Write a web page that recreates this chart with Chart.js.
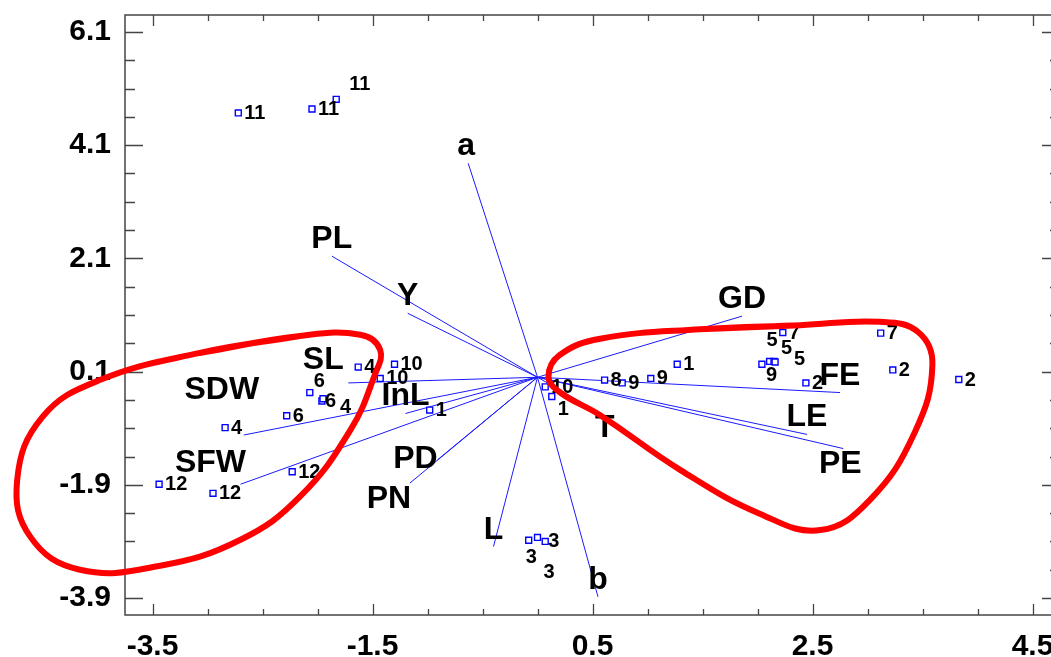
<!DOCTYPE html>
<html>
<head>
<meta charset="utf-8">
<title>Biplot</title>
<style>
  html, body { margin: 0; padding: 0; background: #ffffff; overflow: hidden; }
  #wrap { width: 1066px; height: 657px; }
</style>
<script src="https://cdn.jsdelivr.net/npm/chart.js@4.4.1/dist/chart.umd.min.js"></script>
</head>
<body>
<div id="wrap"><canvas id="biplot" width="1066" height="657"></canvas></div>
<script>
// ---- axis tick labels ----
const xTickLabels = [-3.5, -1.5, 0.5, 2.5, 4.5];
const yTickLabels = [-3.9, -1.9, 0.1, 2.1, 4.1, 6.1];

// ---- trait vectors (end points; every vector starts at the origin) ----
const traitNames = ['a', 'PL', 'Y', 'GD', 'FE', 'LE', 'PE', 'T', 'b', 'L', 'PN', 'PD', 'InL', 'SL', 'SDW', 'SFW'];
const traitX = [-0.63, -1.87, -1.18, 1.86, 2.75, 2.45, 2.78, 0.53, 0.55, -0.40, -1.16, -0.91, -1.20, -1.72, -2.67, -2.70];
const traitY = [3.78, 2.14, 1.13, 1.08, -0.27, -1.01, -1.26, -0.59, -3.88, -2.99, -1.87, -1.46, -0.64, -0.10, -1.02, -1.89];

// ---- observation scores (genotype number per point) ----
const obsLabels = ['11', '11', '11', '4', '12', '12', '12', '6', '6', '6', '4', '4', '10', '10', '1', '10', '1', '1',
                   '8', '9', '9', '9', '5', '5', '5', '7', '7', '2', '2', '2', '3', '3', '3'];
const obsX = [-2.72, -2.05, -1.83, -2.84, -3.44, -2.95, -2.23, -2.28, -2.07, -1.96, -1.95, -1.63, -1.30, -1.43, -0.98, 0.07, 0.13, 1.27,
              0.61, 0.77, 1.03, 2.04, 2.11, 2.15, 2.16, 2.23, 3.12, 2.44, 3.23, 3.83, -0.08, 0.00, 0.07];
const obsY = [4.67, 4.74, 4.91, -0.89, -1.89, -2.05, -1.67, -0.68, -0.27, -0.42, -0.38, 0.18, 0.23, -0.02, -0.58, -0.17, -0.34, 0.23,
              -0.05, -0.10, -0.02, 0.23, 0.28, 0.28, 0.27, 0.79, 0.78, -0.10, 0.13, -0.04, -2.88, -2.83, -2.90];

// ---- group outlines (traced around the two clusters) ----
const leftGroupX = [-2.16, -3.07, -3.98, -4.50, -4.73, -4.61, -4.16, -3.43, -2.70, -2.16, -1.70, -1.48, -1.43, -1.61];
const leftGroupY = [0.73, 0.43, -0.05, -0.70, -1.81, -2.82, -3.40, -3.33, -2.87, -2.11, -0.93, 0.04, 0.48, 0.75];
const rightGroupX = [1.48, 2.39, 3.11, 3.46, 3.59, 3.43, 3.02, 2.57, 2.02, 1.30, 0.57, 0.20, 0.10, 0.20, 0.57];
const rightGroupY = [0.85, 0.92, 0.98, 0.80, 0.22, -0.97, -2.17, -2.70, -2.41, -1.64, -0.67, -0.26, 0.01, 0.39, 0.68];

// ---- styling ----
const FONT = '"Liberation Sans", Arial, Helvetica, sans-serif';
const VEC_BLUE = '#1a1aff';
const PT_BLUE = '#0000ff';
const RED = '#ff0000';
const FRAME = '#454545';

// label placement nudges in pixels: vector labels are centred, baseline [dx, dy] from the tip
const traitLabelNudge = {
  a: [-2, -8], PE: [-3, 24], T: [9, 26], PN: [-21, 25], PD: [-22, 8],
  SL: [-25, -14], SDW: [-22, -36], SFW: [-30, -12]
};
// point labels start 6px right of the square, baseline 6px below its centre; extra [dx, dy]
const obsLabelNudge = {
  2: [7, -15], 8: [-2, -12], 9: [-3, 0], 10: [11, 8], 16: [0, 12],
  21: [-2, 11], 22: [-9, -21], 23: [1, -13], 24: [13, -3],
  30: [-9, 17], 31: [0, 35], 32: [-3, 0]
};

function closedLoop(xs, ys) {
  const pts = xs.map((x, i) => ({ x: x, y: ys[i] }));
  return pts.concat(pts.slice(0, 2));
}

const vectorSets = traitNames.map((name, i) => ({
  type: 'line',
  label: name,
  data: [{ x: 0, y: 0 }, { x: traitX[i], y: traitY[i] }],
  borderColor: VEC_BLUE,
  borderWidth: 1,
  pointRadius: 0,
  tension: 0,
  fill: false,
  order: 2
}));

const pointSet = {
  type: 'line',
  label: 'scores',
  data: obsX.map((x, i) => ({ x: x, y: obsY[i] })),
  showLine: false,
  pointStyle: 'rect',
  pointRadius: 4.2,
  pointBorderWidth: 1.4,
  pointBorderColor: PT_BLUE,
  pointBackgroundColor: '#ffffff',
  order: 1
};
const POINT_INDEX = vectorSets.length;

const outlineSets = [[leftGroupX, leftGroupY], [rightGroupX, rightGroupY]].map(([xs, ys], k) => ({
  type: 'line',
  label: 'group' + k,
  data: closedLoop(xs, ys),
  borderColor: RED,
  borderWidth: 6,
  borderJoinStyle: 'round',
  borderCapStyle: 'round',
  pointRadius: 0,
  tension: 0.42,
  capBezierPoints: false,
  clip: false,
  fill: false,
  order: 0
}));

// frame and inward tick marks (major every 2, minor every 0.5)
const framePlugin = {
  id: 'frame',
  beforeDatasetsDraw(chart) {
    const { ctx, chartArea: a, scales } = chart;
    ctx.save();
    ctx.strokeStyle = FRAME;
    ctx.lineWidth = 1.5;
    ctx.strokeRect(a.left, a.top, a.right - a.left, a.bottom - a.top);
    ctx.lineWidth = 1.3;
    const steps = (majors, sc) => {
      const out = [];
      const base = majors[0];
      for (let k = -20; k <= 40; k++) {
        const v = base + k * 0.5;
        if (v < sc.min - 1e-9 || v > sc.max + 1e-9) continue;
        out.push({ v: v, major: ((k % 4) + 4) % 4 === 0 });
      }
      return out;
    };
    steps(xTickLabels, scales.x).forEach(t => {
      const px = Math.round(scales.x.getPixelForValue(t.v)) + 0.5;
      const len = t.major ? 11 : 6;
      ctx.beginPath();
      ctx.moveTo(px, a.bottom); ctx.lineTo(px, a.bottom - len);
      ctx.moveTo(px, a.top); ctx.lineTo(px, a.top + len);
      ctx.stroke();
    });
    steps(yTickLabels, scales.y).forEach(t => {
      const py = Math.round(scales.y.getPixelForValue(t.v)) + 0.5;
      const len = t.major ? 18 : 10;
      ctx.beginPath();
      ctx.moveTo(a.left, py); ctx.lineTo(a.left + len, py);
      ctx.moveTo(a.right, py); ctx.lineTo(a.right - len, py);
      ctx.stroke();
    });
    ctx.restore();
  }
};

// vector names and point numbers, drawn above the points and below the outlines
const labelPlugin = {
  id: 'labels',
  afterDatasetDraw(chart, args) {
    if (args.index !== POINT_INDEX) return;
    const { ctx, scales } = chart;
    ctx.save();
    ctx.fillStyle = '#000000';
    ctx.textBaseline = 'alphabetic';

    ctx.font = 'bold 20px ' + FONT;
    ctx.textAlign = 'left';
    obsLabels.forEach((txt, i) => {
      const px = scales.x.getPixelForValue(obsX[i]);
      const py = scales.y.getPixelForValue(obsY[i]);
      const n = obsLabelNudge[i] || [0, 0];
      ctx.fillText(txt, px + 6 + n[0], py + 6 + n[1]);
    });

    ctx.font = 'bold 32px ' + FONT;
    ctx.textAlign = 'center';
    traitNames.forEach((name, i) => {
      const px = scales.x.getPixelForValue(traitX[i]);
      const py = scales.y.getPixelForValue(traitY[i]);
      const n = traitLabelNudge[name] || [0, -8];
      ctx.fillText(name, px + n[0], py + n[1]);
    });
    ctx.restore();
  }
};

const tickFont = { family: FONT, size: 30, weight: 'bold' };

// keep the plot rectangle fixed: no extra room reserved for overhanging tick labels
function fixBox(s, key, size) {
  s[key] = size;
  s.paddingTop = 0; s.paddingBottom = 0; s.paddingLeft = 0; s.paddingRight = 0;
}

new Chart(document.getElementById('biplot'), {
  type: 'line',
  data: { datasets: vectorSets.concat([pointSet], outlineSets) },
  options: {
    responsive: false,
    animation: false,
    devicePixelRatio: 1,
    layout: { padding: { top: 15, right: 6, left: 0, bottom: 0 } },
    elements: { line: { capBezierPoints: false } },
    plugins: { legend: { display: false }, tooltip: { enabled: false } },
    events: [],
    scales: {
      x: {
        type: 'linear',
        min: -3.75,
        max: 4.75,
        afterBuildTicks: s => { s.ticks = xTickLabels.map(v => ({ value: v })); },
        afterFit: s => fixBox(s, 'height', 42),
        grid: { display: false, drawTicks: false },
        border: { display: false },
        ticks: {
          font: tickFont, color: '#000000', padding: 14,
          maxRotation: 0, autoSkip: false,
          callback: v => Number(v).toFixed(1)
        }
      },
      y: {
        type: 'linear',
        min: -4.2,
        max: 6.4,
        afterBuildTicks: s => { s.ticks = yTickLabels.map(v => ({ value: v })); },
        afterFit: s => fixBox(s, 'width', 125),
        grid: { display: false, drawTicks: false },
        border: { display: false },
        ticks: {
          font: tickFont, color: '#000000', padding: 14,
          autoSkip: false,
          callback: v => Number(v).toFixed(1)
        }
      }
    }
  },
  plugins: [framePlugin, labelPlugin]
});
</script>
</body>
</html>
